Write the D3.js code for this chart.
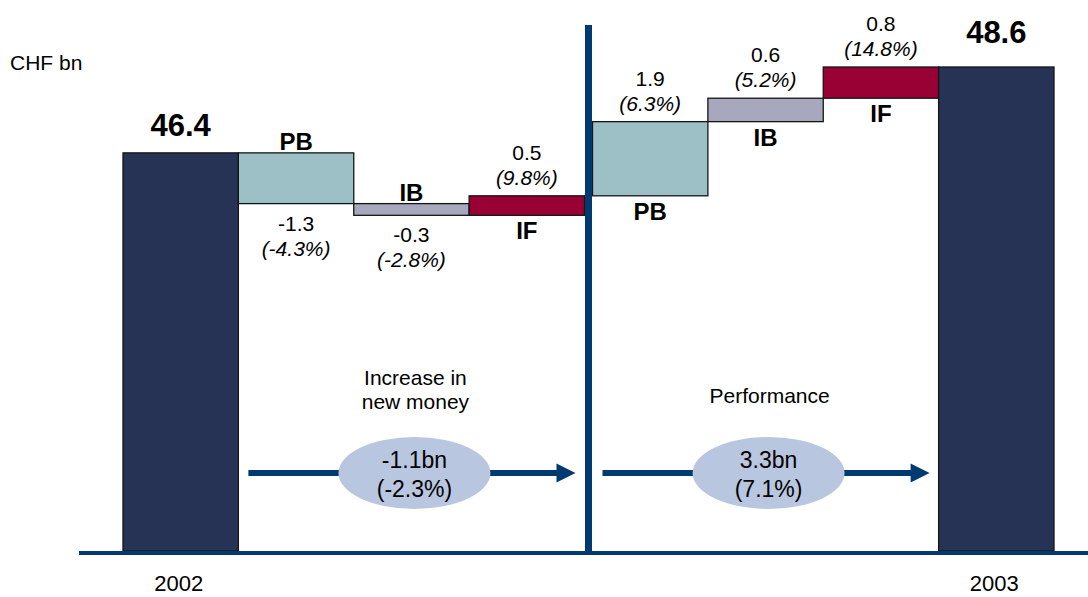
<!DOCTYPE html>
<html>
<head>
<meta charset="utf-8">
<script src="https://cdn.jsdelivr.net/npm/d3@7"></script>
<style>
  html, body { margin: 0; padding: 0; background: #ffffff; }
  svg { display: block; font-family: "Liberation Sans", Arial, Helvetica, sans-serif; }
</style>
</head>
<body>
<svg id="chart" width="1088" height="597"></svg>
<script>
// Assets under management bridge, CHF bn
const steps    = ["2002", "PB", "IB", "IF", "PB", "IB", "IF", "2003"];
const kinds    = ["total", "PB", "IB", "IF", "PB", "IB", "IF", "total"];
const values   = [46.4, -1.3, -0.3, 0.5, 1.9, 0.6, 0.8, 48.6];
const percents = [null, "-4.3%", "-2.8%", "9.8%", "6.3%", "5.2%", "14.8%", null];
const groups   = [0, 0, 0, 0, 1, 1, 1, 1];

// Summary of each half of the bridge
const summaryTitles   = [["Increase in", "new money"], ["Performance"]];
const summaryValues   = ["-1.1bn", "3.3bn"];
const summaryPercents = ["-2.3%", "7.1%"];

const unitLabel = "CHF bn";

const colors = { total: "#263354", PB: "#9dc0c7", IB: "#a7a8be", IF: "#990033" };
const navy = "#003a70";

const svg = d3.select("#chart");

// Scales
const yMin = 36.2;
const y = d3.scaleLinear().domain([yMin, 48.6]).range([551, 67]);
const gap = 8; // room for the divider between the two halves
const xBand = d3.scaleBand().domain(d3.range(steps.length)).range([123, 1054 - gap]).paddingInner(0).paddingOuter(0);
const xLeft = i => xBand(i) + (groups[i] === 1 ? gap : 0);
const bw = xBand.bandwidth();

// Running totals
let running = 0;
const bars = values.map((v, i) => {
  let lo, hi, start, end;
  if (kinds[i] === "total") {
    lo = yMin; hi = v; running = v;
  } else {
    start = running; end = running + v; running = end;
    lo = Math.min(start, end); hi = Math.max(start, end);
  }
  return { i, v, lo, hi, kind: kinds[i], name: steps[i], pct: percents[i], group: groups[i] };
});

// Bars
svg.append("g").selectAll("rect").data(bars).join("rect")
  .attr("x", d => xLeft(d.i))
  .attr("y", d => y(d.hi))
  .attr("width", bw)
  .attr("height", d => y(d.lo) - y(d.hi))
  .attr("fill", d => colors[d.kind])
  .attr("stroke", "#151515")
  .attr("stroke-width", 1.3);

// Baseline and divider
svg.append("line")
  .attr("x1", 79).attr("x2", 1088)
  .attr("y1", y(yMin) + 2).attr("y2", y(yMin) + 2)
  .attr("stroke", navy).attr("stroke-width", 4);

const divX = xBand(4) + gap / 2;
svg.append("line")
  .attr("x1", divX).attr("x2", divX)
  .attr("y1", 25).attr("y2", y(yMin) + 2)
  .attr("stroke", navy).attr("stroke-width", 7);

const cx = d => xLeft(d.i) + bw / 2;
const fmt = v => v.toFixed(1);

// Totals: value above, year below the baseline
const totals = bars.filter(d => d.kind === "total");
const totalOffset = [17, 24];
svg.append("g").selectAll("text.total").data(totals).join("text")
  .attr("x", cx)
  .attr("y", d => y(d.hi) - totalOffset[d.group])
  .attr("text-anchor", "middle")
  .attr("font-size", 31).attr("font-weight", "bold").attr("fill", "#000")
  .text(d => fmt(d.v));
svg.append("g").selectAll("text.year").data(totals).join("text")
  .attr("x", d => cx(d) - 2)
  .attr("y", 591)
  .attr("text-anchor", "middle")
  .attr("font-size", 22).attr("fill", "#000")
  .text(d => d.name);

// Step labels
const stepBars = bars.filter(d => d.kind !== "total");
const g = svg.append("g");
stepBars.forEach(d => {
  const top = y(d.hi), bottom = y(d.lo);
  const neg = d.v < 0;
  g.append("text")
    .attr("x", cx(d)).attr("y", neg ? top - 3 : bottom + 24)
    .attr("text-anchor", "middle")
    .attr("font-size", 24).attr("font-weight", "bold").attr("fill", "#000")
    .text(d.name);
  g.append("text")
    .attr("x", cx(d)).attr("y", neg ? bottom + 27 : top - 36)
    .attr("text-anchor", "middle")
    .attr("font-size", 21).attr("fill", "#000")
    .text(fmt(d.v));
  g.append("text")
    .attr("x", cx(d)).attr("y", neg ? bottom + 52 : top - 11)
    .attr("text-anchor", "middle")
    .attr("font-size", 21).attr("font-style", "italic").attr("fill", "#000")
    .text("(" + d.pct + ")");
});

// Unit label
svg.append("text")
  .attr("x", 10).attr("y", 70)
  .attr("font-size", 21).attr("fill", "#000")
  .text(unitLabel);

// Summary arrows with ellipses
const arrowY = 473;
[0, 1].forEach(k => {
  const idx = bars.filter(d => d.group === k && d.kind !== "total").map(d => d.i);
  const x0 = xLeft(idx[0]);
  const x1 = xLeft(idx[idx.length - 1]) + bw;
  const mid = (x0 + x1) / 2;
  const tip = x1 - 9;
  const ag = svg.append("g");
  ag.append("line")
    .attr("x1", x0 + 10).attr("x2", tip - 16)
    .attr("y1", arrowY).attr("y2", arrowY)
    .attr("stroke", navy).attr("stroke-width", 6);
  ag.append("path")
    .attr("d", `M${tip - 19},${arrowY - 9.5} L${tip},${arrowY} L${tip - 19},${arrowY + 9.5} Z`)
    .attr("fill", navy);
  ag.append("ellipse")
    .attr("cx", mid + 3).attr("cy", arrowY)
    .attr("rx", 76).attr("ry", 36)
    .attr("fill", "#b8c7df");
  ag.append("text")
    .attr("x", mid + 3).attr("y", 468)
    .attr("text-anchor", "middle").attr("font-size", 23).attr("fill", "#000")
    .text(summaryValues[k]);
  ag.append("text")
    .attr("x", mid + 3).attr("y", 497)
    .attr("text-anchor", "middle").attr("font-size", 23).attr("fill", "#000")
    .text("(" + summaryPercents[k] + ")");
  const lines = summaryTitles[k];
  const n = lines.length;
  lines.forEach((t, i) => {
    ag.append("text")
      .attr("x", mid + 4).attr("y", 403 - (n - 1) * 18 + i * 24)
      .attr("text-anchor", "middle").attr("font-size", 21).attr("fill", "#000")
      .text(t);
  });
});
</script>
</body>
</html>
